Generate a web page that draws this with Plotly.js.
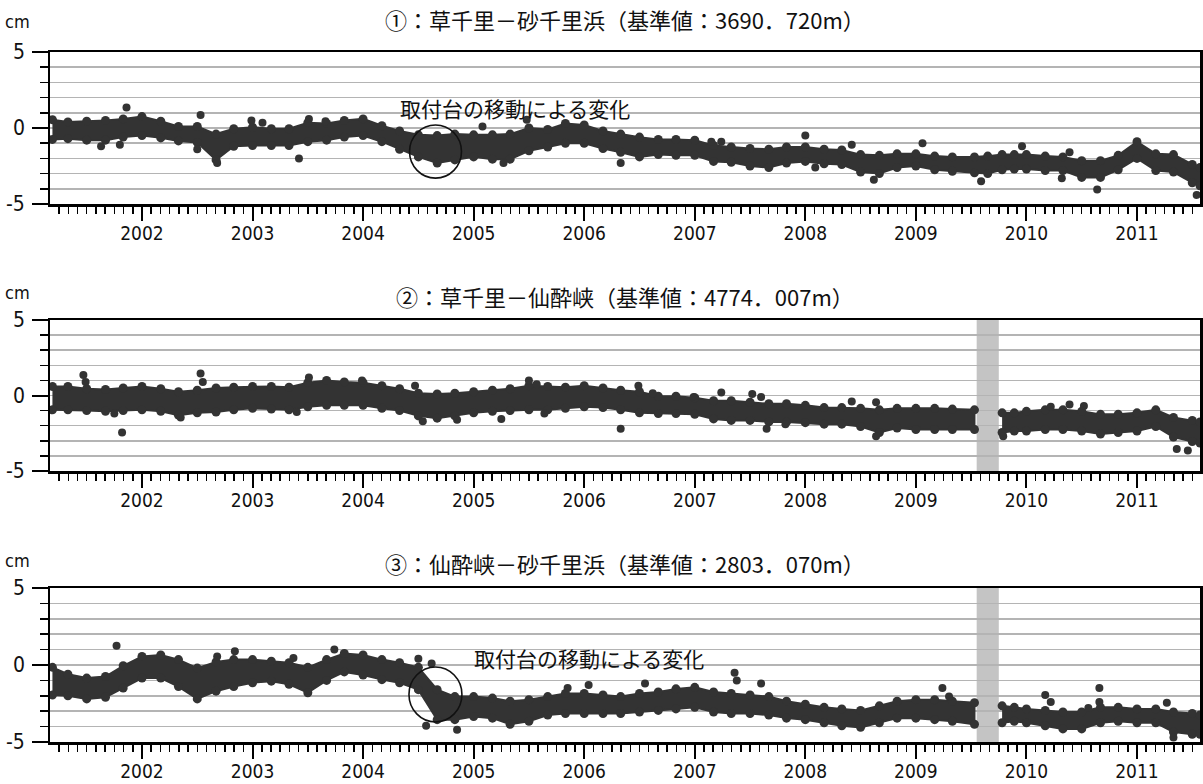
<!DOCTYPE html>
<html><head><meta charset="utf-8">
<script src="https://cdn.plot.ly/plotly-3.0.1.min.js"></script>
<style>html,body{margin:0;padding:0;background:#fff}#chart{width:1203px;height:784px}</style>
</head><body><div id="chart"></div>
<script>
// sample times (decimal years)
const years = [2001.19,2001.33,2001.5,2001.67,2001.83,
 2002.0,2002.17,2002.33,2002.5,2002.67,2002.83,
 2003.0,2003.17,2003.33,2003.5,2003.67,2003.83,
 2004.0,2004.17,2004.33,2004.5,2004.67,2004.83,
 2005.0,2005.17,2005.33,2005.5,2005.67,2005.83,
 2006.0,2006.17,2006.33,2006.5,2006.67,2006.83,
 2007.0,2007.17,2007.33,2007.5,2007.67,2007.83,
 2008.0,2008.17,2008.33,2008.5,2008.67,2008.83,
 2009.0,2009.17,2009.33,2009.53,2009.65,2009.78,2009.89,
 2010.0,2010.17,2010.33,2010.5,2010.67,2010.83,
 2011.0,2011.17,2011.33,2011.5,2011.57];

// panel 1 upper / lower edge of the point cloud (cm)
const p1Hi = [0.55,0.4,0.45,0.5,0.6, 0.75,0.45,0.1,0.1,-0.4,-0.05, 0.05,-0.05,-0.05,0.35,0.3,0.5,
 0.6,0.15,-0.2,-0.45,-0.5,-0.4, -0.45,-0.45,-0.4,0.0,-0.1,0.3, 0.2,-0.2,-0.4,-0.6,-0.75,-0.75,
 -0.8,-1.15,-1.25,-1.35,-1.4,-1.25, -1.25,-1.4,-1.45,-1.75,-1.8,-1.7, -1.7,-1.85,-1.9,-1.9,-1.85,-1.75,-1.75,
 -1.75,-1.85,-1.9,-2.15,-2.15,-1.8, -0.9,-1.7,-1.75,-2.4,-2.6];
const p1Lo = [-0.75,-0.7,-0.8,-0.8,-0.6, -0.5,-0.65,-0.85,-0.95,-2.1,-1.2, -1.15,-1.15,-1.15,-0.9,-0.8,-0.6,
 -0.5,-0.9,-1.4,-1.9,-2.3,-2.1, -1.9,-2.05,-2.05,-1.5,-1.25,-1.0, -1.0,-1.35,-1.6,-1.9,-1.75,-1.8,
 -1.8,-2.2,-2.25,-2.5,-2.6,-2.3, -2.2,-2.35,-2.4,-2.9,-3.0,-2.6, -2.5,-2.75,-2.85,-2.95,-3.0,-2.75,-2.7,
 -2.7,-2.8,-2.8,-3.25,-3.25,-2.75, -2.0,-2.8,-2.9,-3.6,-3.8];
const p1OutX = [2001.63,2001.80,2001.86,2002.53,2002.50,2002.68,2002.99,2003.09,2003.42,2003.51,2003.66,
 2005.08,2005.27,2005.48,2006.33,2007.15,2007.24,2008.0,2008.09,2008.42,2008.62,2009.06,2009.59,
 2009.96,2010.39,2010.32,2010.64,2011.54];
const p1OutY = [-1.2,-1.1,1.35,0.85,-1.4,-2.3,0.5,0.35,-2.0,0.6,0.45,
 0.1,-2.3,0.55,-2.3,-0.9,-0.9,-0.5,-2.6,-1.1,-3.4,-1.0,-3.5,
 -1.2,-1.6,-3.3,-4.05,-4.4];

// panel 2
const p2Hi = [0.6,0.6,0.45,0.4,0.5, 0.6,0.45,0.25,0.35,0.5,0.55, 0.6,0.6,0.55,0.85,1.0,0.9,
 0.85,0.65,0.45,0.15,0.1,0.15, 0.25,0.35,0.45,0.65,0.6,0.55, 0.65,0.5,0.35,0.25,-0.05,-0.05,
 -0.15,-0.35,-0.35,-0.45,-0.55,-0.55, -0.65,-0.8,-0.8,-0.85,-0.95,-0.85, -0.85,-0.85,-0.9,-0.95,null,-1.15,-1.15,
 -1.05,-0.95,-0.95,-1.05,-1.25,-1.25, -1.15,-0.95,-1.45,-1.65,-1.75];
const p2Lo = [-0.95,-0.95,-1.0,-1.05,-1.0, -0.95,-1.05,-1.3,-1.15,-1.1,-0.95, -0.85,-0.9,-0.95,-0.75,-0.65,-0.65,
 -0.65,-0.85,-1.0,-1.35,-1.5,-1.35, -1.15,-1.05,-1.0,-0.95,-0.95,-0.85, -0.75,-0.8,-0.95,-1.15,-1.2,-1.2,
 -1.25,-1.55,-1.65,-1.65,-1.75,-1.75, -1.8,-1.9,-1.9,-2.05,-2.45,-2.15, -2.25,-2.25,-2.25,-2.25,null,-2.45,-2.35,
 -2.35,-2.25,-2.25,-2.35,-2.55,-2.45, -2.35,-2.05,-2.75,-3.05,-3.15];
const p2OutX = [2001.47,2001.49,2001.82,2001.75,2002.35,2002.53,2002.55,2003.40,2003.51,2003.99,2004.47,
 2004.54,2004.85,2005.25,2005.50,2005.57,2005.64,2006.33,2006.49,2006.62,2006.99,2007.24,2007.52,
 2007.60,2007.65,2007.82,2008.42,2008.64,2008.64,2009.79,2010.22,2010.39,2010.52,2011.36,2011.46];
const p2OutY = [1.35,0.9,-2.45,-1.2,-1.45,1.45,0.9,-1.1,1.2,1.0,0.65,
 -1.7,-1.6,-1.55,1.0,0.75,-1.2,-2.2,0.65,0.15,-0.1,0.2,0.1,
 -0.1,-2.2,-1.9,-0.4,-0.45,-2.7,-2.7,-0.75,-0.6,-0.7,-3.55,-3.65];

// panel 3
const p3Hi = [-0.15,-0.6,-0.85,-0.75,-0.05, 0.55,0.65,0.35,-0.2,0.2,0.35, 0.35,0.25,0.15,-0.15,0.35,0.75,
 0.65,0.35,0.15,-0.15,-1.6,-2.05, -2.05,-2.15,-2.35,-2.25,-2.05,-1.85, -1.85,-1.95,-2.05,-1.85,-1.75,-1.55,
 -1.45,-1.75,-1.85,-1.95,-2.05,-2.35, -2.55,-2.75,-2.85,-2.95,-2.65,-2.35, -2.25,-2.25,-2.35,-2.45,null,-2.65,-2.75,
 -2.85,-2.95,-3.05,-3.05,-2.75,-2.75, -2.85,-2.85,-3.05,-3.15,-3.25];
const p3Lo = [-1.95,-2.0,-2.2,-2.1,-1.5, -0.85,-0.85,-1.4,-2.2,-1.7,-1.4, -1.15,-1.05,-1.25,-1.8,-1.0,-0.45,
 -0.65,-0.95,-1.15,-1.6,-3.55,-3.55, -3.35,-3.45,-3.85,-3.65,-3.25,-3.15, -3.15,-3.15,-3.15,-3.05,-2.95,-2.85,
 -2.75,-3.05,-3.15,-3.15,-3.25,-3.45, -3.55,-3.75,-3.95,-4.05,-3.75,-3.45, -3.45,-3.55,-3.65,-3.85,null,-3.75,-3.65,
 -3.75,-3.95,-4.15,-4.15,-3.75,-3.65, -3.75,-3.75,-4.35,-4.5,-4.5];
const p3OutX = [2001.77,2002.68,2002.84,2003.37,2003.74,2004.50,2004.62,2004.57,2004.85,2005.85,2006.04,
 2006.55,2007.36,2007.38,2007.60,2009.24,2009.30,2010.17,2010.22,2010.66,2010.66,2011.27,2010.56,2011.33];
const p3OutY = [1.25,0.55,0.9,0.45,1.0,0.4,0.1,-3.95,-4.2,-1.5,-1.3,
 -1.2,-0.5,-1.0,-1.2,-1.5,-2.05,-1.95,-2.4,-1.5,-2.4,-2.45,-2.8,-4.7];

const yearTicks = [2002,2003,2004,2005,2006,2007,2008,2009,2010,2011];
const yearLabels = ['2002','2003','2004','2005','2006','2007','2008','2009','2010','2011'];
const yTickVals = [5,0,-5];
const yTickText = ['5','0','-5'];
const titles = ['①：草千里－砂千里浜（基準値：3690．720m）',
                '②：草千里－仙酔峡（基準値：4774．007m）',
                '③：仙酔峡－砂千里浜（基準値：2803．070m）'];
const noteText = '取付台の移動による変化';

const DOT = '#333333';
const latin = '"Liberation Sans Narrow","DejaVu Sans Condensed","Arial Narrow",sans-serif';
const cjk = '"Noto Sans CJK JP","Noto Sans CJK SC",sans-serif';

function segments(xs, hi, lo){
  const segs=[]; let cur=null;
  for(let i=0;i<xs.length;i++){
    if(hi[i]===null||lo[i]===null){ if(cur){segs.push(cur);cur=null;} continue; }
    if(!cur) cur={x:[],hi:[],lo:[]};
    cur.x.push(xs[i]); cur.hi.push(hi[i]); cur.lo.push(lo[i]);
  }
  if(cur) segs.push(cur);
  return segs;
}

const traces=[];
function addPanel(n, hi, lo, ox, oy){
  const xa = n===1?'x':'x'+n, ya = n===1?'y':'y'+n;
  segments(years, hi, lo).forEach(s=>{
    traces.push({x:s.x.concat(s.x.slice().reverse()), y:s.hi.concat(s.lo.slice().reverse()),
      xaxis:xa, yaxis:ya, mode:'lines', fill:'toself', fillcolor:DOT,
      line:{color:DOT,width:2}, hoverinfo:'skip', showlegend:false});
    traces.push({x:s.x.concat(s.x), y:s.hi.concat(s.lo), xaxis:xa, yaxis:ya,
      mode:'markers', marker:{size:9,color:DOT}, hoverinfo:'skip', showlegend:false});
  });
  traces.push({x:ox, y:oy, xaxis:xa, yaxis:ya, mode:'markers',
    marker:{size:8,color:DOT}, hoverinfo:'skip', showlegend:false});
}
addPanel(1,p1Hi,p1Lo,p1OutX,p1OutY);
addPanel(2,p2Hi,p2Lo,p2OutX,p2OutY);
addPanel(3,p3Hi,p3Lo,p3OutX,p3OutY);

const H=784;
const doms=[[52,204],[320,471],[588,742]].map(d=>[1-d[1]/H,1-d[0]/H]);
const xRange=[2001.168,2011.57];

function xax(anchor){
  return {domain:[0,1], anchor:anchor, range:xRange, type:'linear',
    tickmode:'array', tickvals:yearTicks, ticktext:yearLabels,
    ticks:'outside', ticklen:14, tickwidth:2, tickcolor:'#000',
    ticklabelstandoff:-3,
    minor:{tick0:2001, dtick:1/12, ticks:'outside', ticklen:7, tickwidth:1.5, tickcolor:'#000', showgrid:false},
    showgrid:false, zeroline:false, showline:true, mirror:true, linecolor:'#000', linewidth:2.5,
    tickfont:{family:latin, size:19, color:'#111'}, fixedrange:true};
}
function yax(anchor, dom){
  return {domain:dom, anchor:anchor, range:[-5,5],
    tickmode:'array', tickvals:yTickVals, showticklabels:false,
    ticks:'outside', ticklen:16, tickwidth:2, tickcolor:'#000',
    minor:{dtick:1, tick0:0, ticks:'outside', ticklen:8, tickwidth:1.5, tickcolor:'#000',
           showgrid:true, gridcolor:'#b4b4b4', gridwidth:1.5},
    showgrid:true, gridcolor:'#b4b4b4', gridwidth:1.5, zeroline:false,
    showline:true, mirror:true, linecolor:'#000', linewidth:2.5, fixedrange:true};
}

const titleY=[19,296,563], cmY=[21,292,560];
const annotations=[];
for(let i=0;i<3;i++){
  annotations.push({xref:'paper', yref:'paper', x:0.5, y:1-titleY[i]/H, xanchor:'center', yanchor:'middle',
    text:titles[i], showarrow:false, font:{family:cjk, size:22, color:'#111'}});
  annotations.push({xref:'paper', yref:'paper', x:(17-50)/1150, y:1-cmY[i]/H, xanchor:'center', yanchor:'middle',
    text:'cm', showarrow:false, font:{family:latin, size:18, color:'#111'}});
  const yr = i===0?'y':'y'+(i+1);
  for(let k=0;k<yTickVals.length;k++){
    annotations.push({xref:'paper', yref:yr, x:(27-50)/1150, y:yTickVals[k], xanchor:'right', yanchor:'middle',
      text:yTickText[k], showarrow:false, font:{family:latin, size:21, color:'#111'}});
  }
}
annotations.push({xref:'x', yref:'y', x:2005.374, y:1.32, xanchor:'center', yanchor:'middle',
  text:noteText, showarrow:false, font:{family:cjk, size:21, color:'#111'}});
annotations.push({xref:'x3', yref:'y3', x:2006.04, y:0.45, xanchor:'center', yanchor:'middle',
  text:noteText, showarrow:false, font:{family:cjk, size:21, color:'#111'}});

const shapes=[
  {type:'rect', xref:'x2', yref:'y2 domain', x0:2009.55, x1:2009.75, y0:0, y1:1, fillcolor:'#c4c4c4', line:{width:0}, layer:'below'},
  {type:'rect', xref:'x3', yref:'y3 domain', x0:2009.55, x1:2009.75, y0:0, y1:1, fillcolor:'#c4c4c4', line:{width:0}, layer:'below'},
  {type:'circle', xref:'x', yref:'y', x0:2004.42, x1:2004.89, y0:-3.3, y1:0.2, line:{color:'#111',width:1.6}, layer:'above'},
  {type:'circle', xref:'x3', yref:'y3', x0:2004.415, x1:2004.894, y0:-3.7, y1:-0.13, line:{color:'#111',width:1.6}, layer:'above'}
];

const layout={width:1203, height:784, margin:{l:50,r:3,t:0,b:0},
  paper_bgcolor:'#fff', plot_bgcolor:'#fff', showlegend:false,
  xaxis:xax('y'), xaxis2:xax('y2'), xaxis3:xax('y3'),
  yaxis:yax('x',doms[0]), yaxis2:yax('x2',doms[1]), yaxis3:yax('x3',doms[2]),
  annotations:annotations, shapes:shapes};

Plotly.newPlot('chart', traces, layout, {staticPlot:true, displayModeBar:false});
</script></body></html>
